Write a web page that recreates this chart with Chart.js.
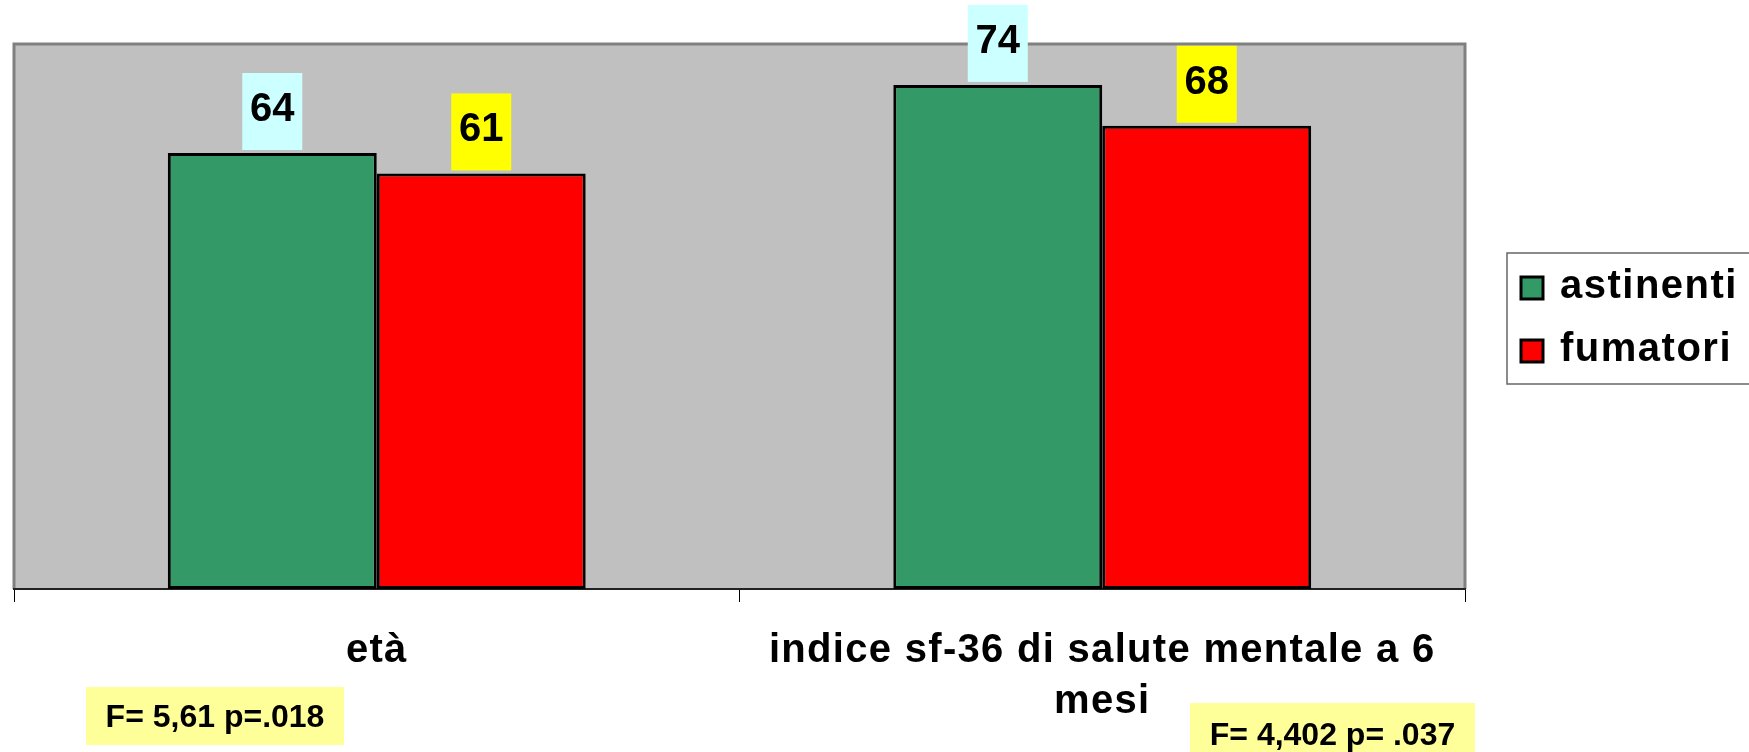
<!DOCTYPE html>
<html>
<head>
<meta charset="utf-8">
<script src="https://cdn.jsdelivr.net/npm/chart.js@4"></script>
<style>
  html, body { margin: 0; padding: 0; background: #fff; }
  #wrap { width: 1749px; height: 752px; }
</style>
</head>
<body>
<div id="wrap"><canvas id="chart" width="1749" height="752"></canvas></div>
<script>
// Categories and values
const categories = ['età', ['indice sf-36 di salute mentale a 6', 'mesi']];
const seriesNames = ['astinenti', 'fumatori'];
const astinenti = [64, 74];
const fumatori = [61, 68];
const yMax = 80;
// Test results shown under each group
const statNotes = ['F= 5,61 p=.018', 'F= 4,402 p= .037'];

const FONT = '"Liberation Sans", Arial, sans-serif';
const barColors = ['#339966', '#FF0000'];
const labelBoxColors = ['#CCFFFF', '#FFFF00'];

// Grey plot area with its frame
const plotBackground = {
  id: 'plotBackground',
  beforeDraw(chart) {
    const { ctx, chartArea: a } = chart;
    ctx.save();
    ctx.fillStyle = '#C0C0C0';
    ctx.fillRect(a.left, a.top, a.right - a.left, a.bottom - a.top);
    ctx.strokeStyle = '#808080';
    ctx.lineWidth = 3;
    ctx.beginPath();
    ctx.moveTo(a.left, a.bottom);
    ctx.lineTo(a.left, a.top);
    ctx.lineTo(a.right, a.top);
    ctx.lineTo(a.right, a.bottom);
    ctx.stroke();
    ctx.restore();
    // slightly spaced lettering for the axis labels
    ctx.letterSpacing = '1.3px';
  },
  afterDraw(chart) {
    chart.ctx.letterSpacing = '0px';
  }
};

// Value labels in coloured boxes above each bar
const valueLabels = {
  id: 'valueLabels',
  afterDatasetsDraw(chart) {
    const ctx = chart.ctx;
    ctx.save();
    ctx.letterSpacing = '0px';
    ctx.font = 'bold 40px ' + FONT;
    ctx.textAlign = 'center';
    ctx.textBaseline = 'alphabetic';
    chart.data.datasets.forEach((ds, i) => {
      chart.getDatasetMeta(i).data.forEach((bar, j) => {
        const boxW = 60, boxH = 77;
        const bottom = bar.y - 3;
        ctx.fillStyle = labelBoxColors[i];
        ctx.fillRect(bar.x - boxW / 2, bottom - boxH, boxW, boxH);
        ctx.fillStyle = '#000';
        ctx.fillText(String(ds.data[j]), bar.x, bottom - 29);
      });
    });
    ctx.restore();
  }
};

// Legend box on the right and the yellow stat notes
const extras = {
  id: 'extras',
  afterDraw(chart) {
    const ctx = chart.ctx;
    ctx.save();
    ctx.letterSpacing = '0px';

    // legend
    ctx.fillStyle = '#fff';
    ctx.fillRect(1507, 253, 260, 131);
    ctx.strokeStyle = '#666';
    ctx.lineWidth = 1.5;
    ctx.strokeRect(1507, 253, 260, 131);
    chart.data.datasets.forEach((ds, i) => {
      const y = 277 + i * 63;
      ctx.fillStyle = ds.backgroundColor;
      ctx.fillRect(1521, y, 22, 22);
      ctx.strokeStyle = '#000';
      ctx.lineWidth = 3;
      ctx.strokeRect(1521, y, 22, 22);
      ctx.fillStyle = '#000';
      ctx.font = 'bold 40px ' + FONT;
      ctx.letterSpacing = '1.5px';
      ctx.textAlign = 'left';
      ctx.textBaseline = 'alphabetic';
      ctx.fillText(ds.label, 1560, y + 21);
      ctx.letterSpacing = '0px';
    });

    // stat notes
    const notes = [
      { x: 86, y: 687, w: 258, h: 58 },
      { x: 1190, y: 703, w: 285, h: 52 }
    ];
    ctx.font = 'bold 32px ' + FONT;
    ctx.textAlign = 'center';
    notes.forEach((n, i) => {
      ctx.fillStyle = '#FFFF99';
      ctx.fillRect(n.x, n.y, n.w, n.h);
      ctx.fillStyle = '#000';
      ctx.fillText(statNotes[i], n.x + n.w / 2, n.y + (i === 0 ? 40 : 42));
    });
    ctx.restore();
  }
};

new Chart(document.getElementById('chart').getContext('2d'), {
  type: 'bar',
  data: {
    labels: categories,
    datasets: [
      {
        label: seriesNames[0],
        data: astinenti,
        backgroundColor: barColors[0],
        borderColor: '#000',
        borderWidth: 3,
        borderSkipped: false,
        categoryPercentage: 0.576,
        barPercentage: 1.0
      },
      {
        label: seriesNames[1],
        data: fumatori,
        backgroundColor: barColors[1],
        borderColor: '#000',
        borderWidth: 3,
        borderSkipped: false,
        categoryPercentage: 0.576,
        barPercentage: 1.0
      }
    ]
  },
  options: {
    responsive: false,
    animation: false,
    devicePixelRatio: 1,
    layout: { padding: { left: 14, top: 44, right: 284, bottom: 0 } },
    plugins: {
      legend: { display: false },
      tooltip: { enabled: false }
    },
    scales: {
      x: {
        offset: true,
        afterFit: scale => { scale.height = 163; },
        grid: {
          display: true,
          offset: true,
          drawOnChartArea: false,
          drawTicks: true,
          tickLength: 13,
          color: '#000',
          lineWidth: 1
        },
        border: { display: true, color: '#222', width: 2 },
        ticks: {
          autoSkip: false,
          maxRotation: 0,
          minRotation: 0,
          padding: 24,
          color: '#000',
          font: { family: FONT, size: 40, weight: 'bold', lineHeight: 1.27 }
        }
      },
      y: {
        display: false,
        min: 0,
        max: yMax
      }
    }
  },
  plugins: [plotBackground, valueLabels, extras]
});
</script>
</body>
</html>
